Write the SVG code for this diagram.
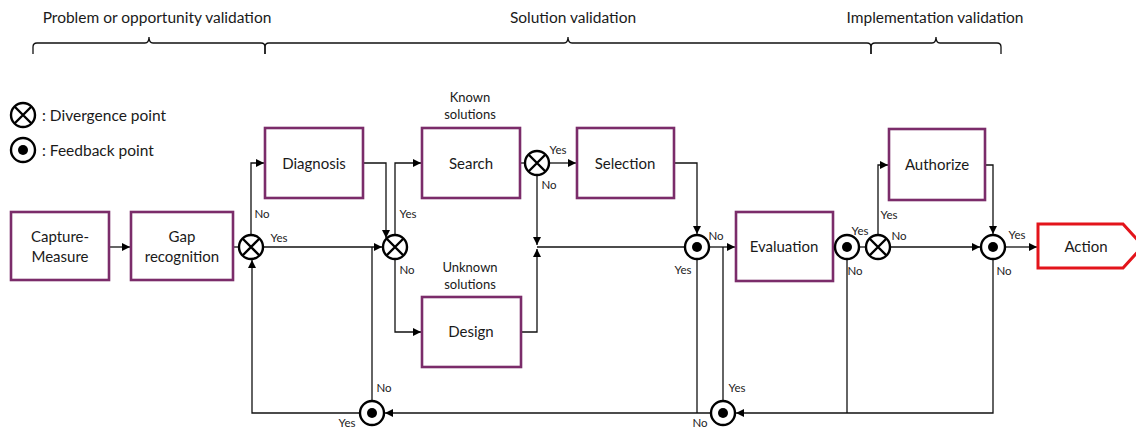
<svg xmlns="http://www.w3.org/2000/svg" xmlns:xlink="http://www.w3.org/1999/xlink" width="1136" height="430" viewBox="0 0 1136 430">
<style>
  text { font-family: Lato, "Liberation Sans", sans-serif; fill: #1a1a1a; }
  .hdr { font-size: 15.5px; text-anchor: middle; }
  .leg { font-size: 15.5px; }
  .node { font-size: 15px; text-anchor: middle; }
  .note { font-size: 13px; text-anchor: middle; }
  .yn { font-size: 11.5px; text-anchor: middle; fill: #222; }
  .box { fill: #fff; stroke: #7B2C6A; stroke-width: 2.6; }
  .act { fill: #fff; stroke: #E3141B; stroke-width: 3; }
  .brace { fill: none; stroke: #111; stroke-width: 1.3; }
  .conn path { fill: none; stroke: #111; stroke-width: 1.3; }
  .pt { fill: #fff; stroke: #000; stroke-width: 2.4; }
  .x { stroke: #000; stroke-width: 2.4; }
</style>
<defs>
  <marker id="arr" viewBox="0 0 8 8" refX="8" refY="4" markerWidth="8" markerHeight="8" markerUnits="userSpaceOnUse" orient="auto">
    <path d="M0,0 L8,4 L0,8 z" fill="#000"/>
  </marker>
  <g id="divpt">
    <circle class="pt" cx="0" cy="0" r="12"/>
    <path class="x" d="M-8.5,-8.5 L8.5,8.5 M8.5,-8.5 L-8.5,8.5"/>
  </g>
  <g id="fbpt">
    <circle class="pt" cx="0" cy="0" r="12"/>
    <circle cx="0" cy="0" r="5" fill="#000"/>
  </g>
</defs>

<g id="headers">
  <text class="hdr" x="157" y="23">Problem or opportunity validation</text>
  <text class="hdr" x="573" y="23">Solution validation</text>
  <text class="hdr" x="935" y="23">Implementation validation</text>
  <path class="brace" d="M33,54 V47 Q33,43 37,43 H145 Q149,43 149,37 Q149,43 153,43 H261 Q265,43 265,47 V54"/>
  <path class="brace" d="M265,54 V47 Q265,43 269,43 H564 Q568,43 568,37 Q568,43 572,43 H867 Q871,43 871,47 V54"/>
  <path class="brace" d="M871,54 V47 Q871,43 875,43 H932 Q936,43 936,37 Q936,43 940,43 H997 Q1001,43 1001,47 V54"/>
</g>

<g id="legend">
  <use xlink:href="#divpt" x="23" y="115"/>
  <text class="leg" x="42" y="121">: Divergence point</text>
  <use xlink:href="#fbpt" x="23" y="150"/>
  <text class="leg" x="42" y="156">: Feedback point</text>
</g>

<g id="connectors" class="conn">
  <path d="M109,247 H130" marker-end="url(#arr)"/>
  <path d="M233,247 H239"/>
  <path d="M251,235 V163 H264" marker-end="url(#arr)"/>
  <path d="M263,247 H382" marker-end="url(#arr)"/>
  <path d="M363,163 H386 V238" marker-end="url(#arr)"/>
  <path d="M395,235 V163 H421" marker-end="url(#arr)"/>
  <path d="M395,259 V332 H421" marker-end="url(#arr)"/>
  <path d="M520,163 H525"/>
  <path d="M549,163 H576" marker-end="url(#arr)"/>
  <path d="M537,175 V245" marker-end="url(#arr)"/>
  <path d="M521,332 H537 V249" marker-end="url(#arr)"/>
  <path d="M537,247 H685"/>
  <path d="M674,163 H697 V234" marker-end="url(#arr)"/>
  <path d="M709,247 H735" marker-end="url(#arr)"/>
  <path d="M833,247 H835"/>
  <path d="M859,247 H866"/>
  <path d="M878,235 V165 H888" marker-end="url(#arr)"/>
  <path d="M890,247 H980" marker-end="url(#arr)"/>
  <path d="M985,165 H993 V234" marker-end="url(#arr)"/>
  <path d="M1005,247 H1037" marker-end="url(#arr)"/>
  <path d="M993,259 V413 H736" marker-end="url(#arr)"/>
  <path d="M847,259 V413"/>
  <path d="M723,401 V247"/>
  <path d="M697,259 V413"/>
  <path d="M711,413 H385" marker-end="url(#arr)"/>
  <path d="M372,401 V247"/>
  <path d="M360,413 H252 V260" marker-end="url(#arr)"/>
</g>

<g id="node-capture">
  <rect class="box" x="11" y="212" width="98" height="68"/>
  <text class="node" x="60" y="242">Capture-</text>
  <text class="node" x="60" y="262">Measure</text>
</g>
<g id="node-gap">
  <rect class="box" x="131" y="212" width="102" height="68"/>
  <text class="node" x="182" y="242">Gap</text>
  <text class="node" x="182" y="262">recognition</text>
</g>
<g id="node-diagnosis">
  <rect class="box" x="265" y="128" width="98" height="70"/>
  <text class="node" x="314" y="169">Diagnosis</text>
</g>
<g id="node-search">
  <rect class="box" x="422" y="128" width="98" height="70"/>
  <text class="node" x="471" y="169">Search</text>
  <text class="note" x="470" y="102">Known</text>
  <text class="note" x="470" y="119">solutions</text>
</g>
<g id="node-selection">
  <rect class="box" x="577" y="128" width="97" height="70"/>
  <text class="node" x="625" y="169">Selection</text>
</g>
<g id="node-design">
  <rect class="box" x="422" y="297" width="99" height="70"/>
  <text class="node" x="471" y="337">Design</text>
  <text class="note" x="470" y="272">Unknown</text>
  <text class="note" x="470" y="289">solutions</text>
</g>
<g id="node-evaluation">
  <rect class="box" x="736" y="212" width="97" height="69"/>
  <text class="node" x="784" y="252">Evaluation</text>
</g>
<g id="node-authorize">
  <rect class="box" x="889" y="129" width="96" height="71"/>
  <text class="node" x="937" y="170">Authorize</text>
</g>
<g id="node-action">
  <path class="act" d="M1038,224 H1123 L1143,246 L1123,268 H1038 Z"/>
  <text class="node" x="1086" y="252">Action</text>
</g>

<g id="dp1"><use xlink:href="#divpt" x="251" y="247"/></g>
<g id="dp2"><use xlink:href="#divpt" x="395" y="247"/></g>
<g id="dp3"><use xlink:href="#divpt" x="537" y="163"/></g>
<g id="dp4"><use xlink:href="#divpt" x="878" y="247"/></g>
<g id="fp1"><use xlink:href="#fbpt" x="697" y="247"/></g>
<g id="fp2"><use xlink:href="#fbpt" x="847" y="247"/></g>
<g id="fp3"><use xlink:href="#fbpt" x="993" y="247"/></g>
<g id="fp4"><use xlink:href="#fbpt" x="372" y="413"/></g>
<g id="fp5"><use xlink:href="#fbpt" x="723" y="413"/></g>

<g id="labels">
  <text class="yn" x="262" y="218">No</text>
  <text class="yn" x="279" y="242">Yes</text>
  <text class="yn" x="408" y="218">Yes</text>
  <text class="yn" x="407" y="274">No</text>
  <text class="yn" x="558" y="154">Yes</text>
  <text class="yn" x="549" y="189">No</text>
  <text class="yn" x="716" y="240">No</text>
  <text class="yn" x="683" y="274">Yes</text>
  <text class="yn" x="860" y="235">Yes</text>
  <text class="yn" x="855" y="275">No</text>
  <text class="yn" x="889" y="219">Yes</text>
  <text class="yn" x="899" y="240">No</text>
  <text class="yn" x="1017" y="239">Yes</text>
  <text class="yn" x="1004" y="275">No</text>
  <text class="yn" x="384" y="392">No</text>
  <text class="yn" x="347" y="427">Yes</text>
  <text class="yn" x="700" y="427">No</text>
  <text class="yn" x="737" y="392">Yes</text>
</g>
</svg>
